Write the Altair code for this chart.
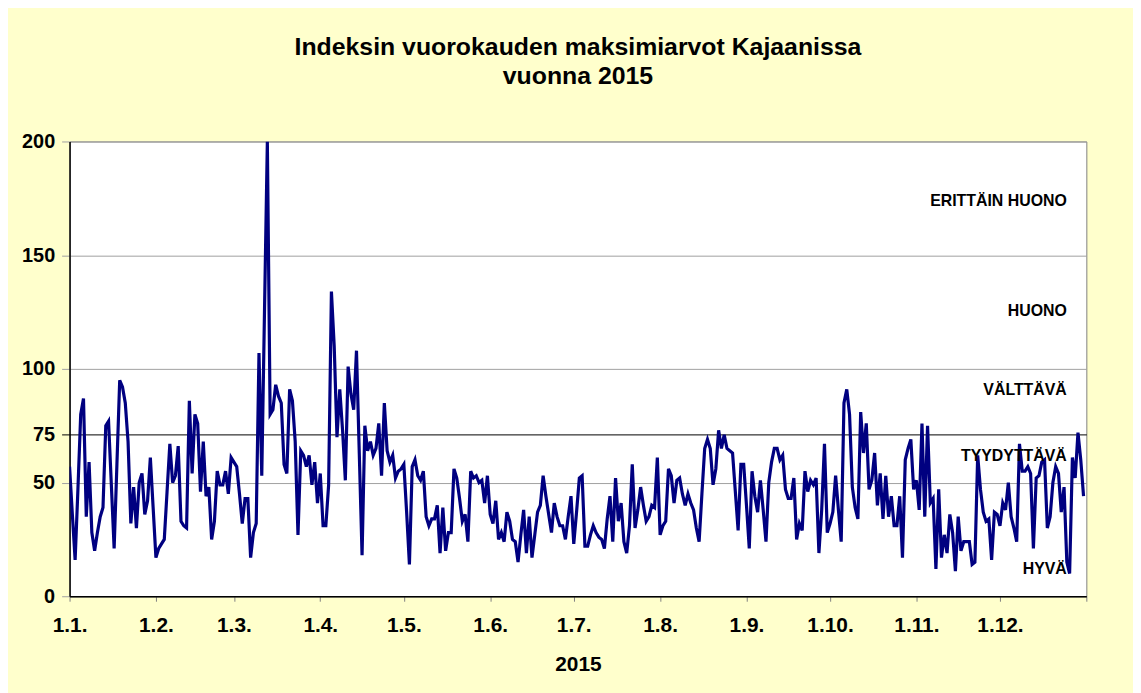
import altair as alt
import pandas as pd

# Daily maximum index values, Kajaani 2015 (1.1.–31.12.)
values = [
    57, 36, 16, 47, 80, 87, 35, 59, 28, 20,
    28, 35, 39, 75, 77, 49, 21, 58, 95, 92,
    85, 68, 32, 48, 30, 50, 54, 36, 42, 61,
    39, 17, 21, 23, 25, 46, 67, 50, 53, 66,
    33, 31, 30, 86, 54, 80, 76, 46, 68, 44,
    48, 25, 33, 55, 49, 49, 55, 45, 61, 59,
    57, 45, 32, 43, 43, 17, 28, 32, 107, 53,
    127, 200, 80, 82, 93, 88, 85, 58, 54, 91,
    86, 68, 27, 64, 62, 57, 62, 49, 59, 41,
    54, 31, 31, 49, 134, 110, 70, 91, 73, 51,
    101, 89, 82, 108, 63, 18, 75, 64, 68, 62,
    65, 76, 53, 85, 64, 59, 62, 52, 55, 56,
    58, 37, 14, 57, 60, 53, 51, 55, 35, 31,
    34, 34, 40, 19, 39, 20, 28, 28, 56, 52,
    43, 33, 36, 24, 55, 52, 53, 50, 51, 41,
    53, 36, 32, 42, 25, 28, 24, 37, 33, 25,
    24, 15, 27, 38, 19, 35, 17, 27, 37, 40,
    53, 44, 36, 28, 41, 35, 31, 31, 25, 35,
    44, 23, 37, 52, 53, 22, 22, 27, 31, 28,
    26, 25, 21, 34, 44, 24, 52, 33, 41, 24,
    19, 31, 58, 30, 38, 48, 40, 33, 35, 40,
    39, 61, 27, 31, 33, 56, 53, 41, 51, 52,
    45, 40, 45, 41, 38, 30, 24, 45, 65, 69,
    65, 49, 56, 73, 65, 71, 65, 64, 63, 46,
    29, 58, 58, 40, 21, 55, 44, 37, 51, 38,
    24, 50, 59, 65, 65, 60, 62, 47, 43, 43,
    52, 25, 32, 29, 55, 46, 51, 49, 52, 19,
    38, 67, 28, 32, 37, 53, 38, 24, 85, 91,
    80, 48, 39, 34, 81, 63, 76, 47, 51, 63,
    40, 54, 34, 53, 35, 44, 31, 31, 44, 17,
    60, 65, 69, 47, 51, 38, 76, 35, 75, 41,
    43, 12, 47, 17, 27, 19, 36, 28, 11, 35,
    20, 24, 24, 24, 14, 15, 62, 47, 37, 33,
    34, 16, 37, 36, 31, 41, 38, 50, 35, 30,
    24, 67, 55, 55, 57, 54, 21, 52, 53, 59,
    60, 30, 35, 50, 57, 54, 37, 48, 15, 10,
    61, 52, 72, 60, 44,
]
start_date = "2015-01-01"

y_ticks = [0, 50, 100, 150, 200]
threshold_pos = 71.1      # where the "75" line is drawn on the 0-200 axis
threshold_label = "75"

band_labels = ["ERITTÄIN HUONO", "HUONO", "VÄLTTÄVÄ", "TYYDYTTÄVÄ", "HYVÄ"]
band_label_y = [174, 125.5, 90.5, 61.5, 12]
band_label_date = "2015-12-25"

title_lines = ["Indeksin vuorokauden maksimiarvot Kajaanissa", "vuonna 2015"]
x_title = "2015"

FONT = "Liberation Sans"

dates = pd.date_range(start_date, periods=len(values), freq="D").strftime("%Y-%m-%d").tolist()
df = pd.DataFrame({"date": dates, "value": values})
labels_df = pd.DataFrame({"label": band_labels, "y": band_label_y,
                          "date": [band_label_date] * len(band_labels)})

month_ticks = [alt.DateTime(year=2015, month=m, date=1, utc=True) for m in range(1, 13)]
month_ticks.append(alt.DateTime(year=2016, month=1, date=1, utc=True))

x_scale = alt.Scale(type="utc", domain=[alt.DateTime(year=2015, month=1, date=1, utc=True),
                                        alt.DateTime(year=2016, month=1, date=1, utc=True)])
y_scale = alt.Scale(domain=[0, 200], nice=False, zero=True)

test = f"datum.value == {threshold_pos}"

x_axis = alt.Axis(
    values=month_ticks,
    labelExpr="utcyear(datum.value) > 2015 ? '' : utcdate(datum.value) + '.' + (utcmonth(datum.value) + 1) + '.'",
    grid=False, tickColor="#808080", tickSize=5, domainColor="black", domainWidth=1.5,
    labelFont=FONT, labelFontSize=21, labelFontWeight="bold", labelColor="black",
    labelPadding=14, labelFlush=False, labelOverlap=False,
    title=x_title, titleFont=FONT, titleFontSize=21, titleFontWeight="bold",
    titleColor="black", titlePadding=18,
)
y_axis = alt.Axis(
    values=y_ticks + [threshold_pos],
    labelExpr=f"{test} ? '{threshold_label}' : datum.label",
    grid=True,
    gridColor={"condition": {"test": test, "value": "black"}, "value": "#a0a0a0"},
    tickColor={"condition": {"test": test, "value": "black"}, "value": "#a0a0a0"},
    tickSize=8, domainColor="black", domainWidth=1.5,
    labelFont=FONT, labelFontSize=20, labelFontWeight="bold", labelColor="black",
    labelPadding=7, labelOverlap=False, title=None,
)

line = alt.Chart(df).mark_line(color="#000080", strokeWidth=3.2, clip=True).encode(
    x=alt.X("date:T", scale=x_scale, axis=x_axis),
    y=alt.Y("value:Q", scale=y_scale, axis=y_axis),
)

text = alt.Chart(labels_df).mark_text(
    align="right", baseline="middle", font=FONT, fontSize=16, fontWeight="bold", color="black"
).encode(
    x=alt.X("date:T", scale=x_scale),
    y=alt.Y("y:Q", scale=y_scale),
    text="label:N",
)

chart = alt.layer(line, text).properties(
    width=1024, height=458,
    title=alt.Title(text=title_lines, font=FONT, fontSize=25, fontWeight="bold", color="black",
                    anchor="middle", offset=43, lineHeight=29),
    autosize=alt.AutoSizeParams(type="none"),
    padding={"left": 62, "top": 132, "right": 47, "bottom": 95},
    background="#FFFFCC",
).configure_view(stroke="#808080", strokeWidth=1, fill="white")

chart.save("out.html", embed_options={"renderer": "svg", "actions": False})
